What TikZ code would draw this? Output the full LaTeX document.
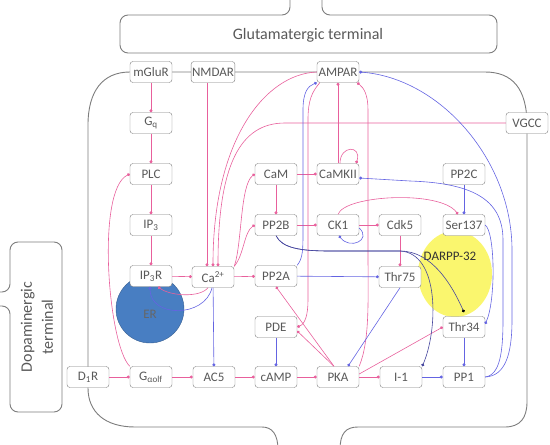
\documentclass[tikz,border=0pt]{standalone}
\usepackage{fontspec}
\setmainfont{Carlito}
\usetikzlibrary{arrows.meta}

\definecolor{actpink}{RGB}{232,96,156}
\definecolor{inhblue}{RGB}{100,100,226}
\definecolor{wallgray}{RGB}{125,125,125}
\definecolor{erblue}{RGB}{72,126,194}
\definecolor{darppyellow}{RGB}{250,246,110}

\begin{document}
\begin{tikzpicture}[x=1pt,y=-1pt]
    \tikzset{
        mol/.style={draw=wallgray, fill=white, rounded corners=3pt, minimum width=42pt, minimum height=21pt, inner sep=1pt, text=black!65, font=\fontsize{13}{14}\selectfont},
        act/.style={actpink, line width=0.6pt, -{Circle[length=3pt]}},
        inh/.style={inhblue, line width=0.6pt, -{Circle[length=3pt]}},
        wall/.style={wallgray, line width=0.9pt, rounded corners=8pt},
        termtext/.style={text=black!65, font=\fontsize{16}{21}\selectfont},}
    \useasboundingbox (0,0) rectangle (550,445);
    % terminals
    \draw[wall] (290,-5) -- (290,15) -- (120,15) -- (120,53) -- (497,53) -- (497,15) -- (322,15) -- (322,-5);
    \node[termtext] (glut) at (308,35) {Glutamatergic terminal};
    \draw[wall] (-5,292) -- (10,292) -- (10,242) -- (62,242) -- (62,412) -- (10,412) -- (10,306) -- (-5,306);
    \node[termtext, rotate=90, align=center] (dopa) at (37,327) {Dopaminergic\\terminal};
    % cell
    \draw[wall, sharp corners] (340,450) .. controls (340,433) and (346,427) .. (358,427) -- (505,427)
        .. controls (520,427) and (527,418) .. (527,402) -- (527,125)
        .. controls (527,88) and (512,72) .. (485,72) -- (130,72)
        .. controls (102,72) and (88,92) .. (88,125) -- (88,388)
        .. controls (88,412) and (105,427) .. (135,427) -- (262,427)
        .. controls (272,427) and (278,434) .. (278,450);
    \filldraw[fill=erblue, draw=erblue!75!black] (150,309) circle[radius=34pt];
    \node[text=black!60, font=\fontsize{13}{14}\selectfont] (er) at (150,314) {ER};
    \fill[darppyellow] (455,274) ellipse[x radius=37pt, y radius=43pt];
    \node[text=black!80, font=\fontsize{13}{14}\selectfont] (darpp) at (450,256) {DARPP-32};
    % molecules
    \node[mol] (nglur) at (151,72) {mGluR};
    \node[mol] (nmdar) at (213,72) {NMDAR};
    \node[mol] (ampar) at (338,72) {AMPAR};
    \node[mol] (vgcc) at (527,123) {VGCC};
    \node[mol] (gq) at (151,123) {G\textsubscript{q}};
    \node[mol] (plc) at (151,174) {PLC};
    \node[mol] (ipt) at (151,225) {IP\textsubscript{3}};
    \node[mol] (iptr) at (151,276) {IP\textsubscript{3}R};
    \node[mol] (ca) at (213,277) {Ca\textsuperscript{2+}};
    \node[mol] (cam) at (276,174) {CaM};
    \node[mol] (camk) at (338,174) {CaMKII};
    \node[mol] (pptb) at (276,225) {PP2B};
    \node[mol] (ck) at (338,225) {CK1};
    \node[mol] (cdk) at (400,225) {Cdk5};
    \node[mol] (pptc) at (464,174) {PP2C};
    \node[mol] (ser) at (464,225) {Ser137};
    \node[mol] (ppta) at (276,276) {PP2A};
    \node[mol] (thrf) at (400,277) {Thr75};
    \node[mol] (pde) at (276,327) {PDE};
    \node[mol] (thrt) at (464,327) {Thr34};
    \node[mol] (dor) at (88,377) {D\textsubscript{1}R};
    \node[mol] (golf) at (151,377) {G\textsubscript{αolf}};
    \node[mol] (acf) at (214,377) {AC5};
    \node[mol] (camp) at (276,377) {cAMP};
    \node[mol] (pka) at (338,377) {PKA};
    \node[mol] (ione) at (401,377) {I-1};
    \node[mol] (ppone) at (464,377) {PP1};
    % activation
    \draw[act] (nglur) -- (gq);
    \draw[act] (gq) -- (plc);
    \draw[act] (plc) -- (ipt);
    \draw[act] (ipt) -- (iptr);
    \draw[act] (iptr) -- (ca);
    \draw[act] (dor) -- (golf);
    \draw[act] (golf) -- (acf);
    \draw[act] (acf) -- (camp);
    \draw[act] (camp) -- (pka);
    \draw[act] (pka) -- (ione);
    \draw[act] (ca) -- (ppta);
    \draw[act] (cam) -- (pptb);
    \draw[act] (cam) -- (camk);
    \draw[act] (pptb) -- (ck);
    \draw[act] (ck) -- (cdk);
    \draw[act] (cdk) -- (thrf);
    \draw[act] (camk) -- (ampar);
    \draw[act] ([xshift=-6pt]nmdar.south) -- ([xshift=-6pt]ca.north);
    \draw[act] (ampar.west) .. controls (265,74) and (213,140) .. (ca.north);
    \draw[act] (vgcc.west) -- (285,123) .. controls (240,123) and (218,165) .. ([xshift=5pt]ca.north);
    \draw[act] (ca.north east) .. controls (242,245) and (240,185) .. (cam.west);
    \draw[act] (ca.north east) .. controls (244,255) and (244,232) .. (pptb.west);
    \draw[act] (golf.north west) .. controls (108,345) and (96,190) .. (plc.west);
    \draw[act] ([xshift=-5pt]ca.south) .. controls (200,298) and (170,296) .. ([xshift=7pt]iptr.south);
    \draw[act] ([xshift=-4pt]pka.north) -- (ppta.south);
    \draw[act] ([xshift=-4pt]pka.north) -- ([yshift=-4pt]pde.east);
    \draw[act] ([xshift=3pt]ampar.south west) .. controls (312,92) and (308,100) .. (308,120) -- (308,300) .. controls (308,315) and (305,324) .. (pde.east);
    \draw[act] (pka.north east) .. controls (370,340) and (368,300) .. (368,250) -- (368,110) .. controls (368,95) and (364,88) .. ([xshift=-2pt]ampar.south east);
    \draw[act] ([yshift=3pt]pka.east) -- (thrt.west);
    \draw[act] (ck.north) .. controls (345,195) and (440,190) .. ([xshift=-6pt]ser.north);
    \draw[act] ([xshift=2pt]camk.north) .. controls (340,145) and (362,145) .. ([xshift=-3pt]camk.north east);
    % inhibition
    \draw[inh] (ca) -- (acf);
    \draw[inh] (pde) -- (camp);
    \draw[inh] (ppta) -- (thrf);
    \draw[inh] (thrf.south) -- ([xshift=10pt]pka.north);
    \draw[inh] (thrt) -- (ppone);
    \draw[inh] (ione) -- (ppone);
    \draw[inh] (pptc) -- (ser);
    \draw[inh] ([xshift=-1pt]ca.south) .. controls (205,318) and (150,318) .. ([xshift=-1pt]iptr.south);
    \draw[inh] ([yshift=-3pt]ck.east) .. controls (372,240) and (350,250) .. ([xshift=1pt]ck.south);
    \draw[inh] (ppta.north east) .. controls (303,258) and (303,250) .. (303,230) -- (303,110) .. controls (303,92) and (308,86) .. (ampar.south west);
    \draw[inh, inhblue!70!black, -{Circle[length=3pt,black]}] (pptb.south) .. controls (282,248) and (300,251) .. (330,251) -- (400,251) .. controls (432,251) and (452,285) .. ([yshift=4pt]thrt.north);
    \draw[inh, inhblue!70!black] (pptb.south) .. controls (282,248) and (300,251) .. (330,251) -- (400,251) .. controls (440,253) and (438,330) .. (ione.north east);
    \draw[inh] (ppone.east) .. controls (505,376) and (512,355) .. (512,320) -- (512,250) .. controls (512,160) and (440,78) .. (ampar.east);
    \draw[inh] (ppone.east) .. controls (500,375) and (503,352) .. (503,320) -- (503,240) .. controls (503,198) and (470,183) .. (410,181) -- ([yshift=-4pt]camk.east);
    \draw[inh] (ser.east) .. controls (495,232) and (496,300) .. ([yshift=3pt]thrt.east);
\end{tikzpicture}
\end{document}
